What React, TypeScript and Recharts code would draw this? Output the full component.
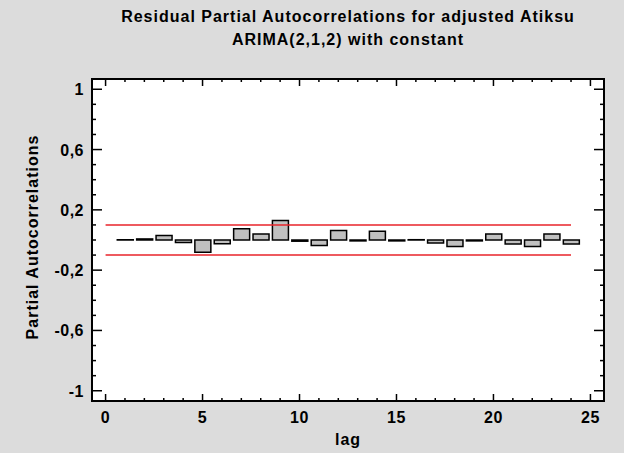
import { Bar, BarChart, XAxis, YAxis, ReferenceLine, ReferenceArea, CartesianGrid } from "recharts"

const lags = [1, 2, 3, 4, 5, 6, 7, 8, 9, 10, 11, 12, 13, 14, 15, 16, 17, 18, 19, 20, 21, 22, 23, 24]
const pacf = [
  0.002, 0.007, 0.03, -0.017, -0.081, -0.025, 0.074, 0.039, 0.129, -0.008, -0.036, 0.063,
  -0.006, 0.058, -0.006, 0.002, -0.02, -0.043, -0.006, 0.039, -0.027, -0.043, 0.039, -0.027,
]
const xTicks = [0, 1, 2, 3, 4, 5, 6, 7, 8, 9, 10, 11, 12, 13, 14, 15, 16, 17, 18, 19, 20, 21, 22, 23, 24, 25]
const xLabels = [0, 5, 10, 15, 20, 25]
const yTicks = [-1, -0.9, -0.8, -0.7, -0.6, -0.5, -0.4, -0.3, -0.2, -0.1, 0, 0.1, 0.2, 0.3, 0.4, 0.5, 0.6, 0.7, 0.8, 0.9, 1]
const yLabels = [-1, -0.6, -0.2, 0.2, 0.6, 1]
const limit = 0.1

const data = lags.map((lag, i) => ({ lag, value: pacf[i] }))

const X_DOMAIN: [number, number] = [-0.7, 25.7]
const Y_DOMAIN: [number, number] = [-1.068, 1.068]

// plot box edges (page px)
const LEFT = 92
const RIGHT = 604
const TOP = 79
const BOTTOM = 401

const font = "'Liberation Sans', Arial, sans-serif"

const near = (a: number, list: number[]) => list.some((v) => Math.abs(v - a) < 1e-6)

function XTick(props: any) {
  const { x, payload } = props
  const major = near(payload.value, xLabels)
  const len = major ? 7 : 3
  return (
    <g>
      <line x1={x} x2={x} y1={BOTTOM} y2={BOTTOM - len} stroke="#000" strokeWidth={1.5} />
      <line x1={x} x2={x} y1={TOP} y2={TOP + len} stroke="#000" strokeWidth={1.5} />
      {major && (
        <text x={x} y={423} textAnchor="middle" fontFamily={font} fontWeight="bold" fontSize={16} letterSpacing={0.5} fill="#000">
          {payload.value}
        </text>
      )}
    </g>
  )
}

function YTick(props: any) {
  const { y, payload } = props
  const major = near(payload.value, yLabels)
  const len = major ? 10 : 4
  return (
    <g>
      <line x1={LEFT} x2={LEFT + len} y1={y} y2={y} stroke="#000" strokeWidth={1.5} />
      <line x1={RIGHT} x2={RIGHT - len} y1={y} y2={y} stroke="#000" strokeWidth={1.5} />
      {major && (
        <text x={84} y={y + 6} textAnchor="end" fontFamily={font} fontWeight="bold" fontSize={16} letterSpacing={0.5} fill="#000">
          {String(payload.value).replace(".", ",")}
        </text>
      )}
    </g>
  )
}

export default function App() {
  return (
    <div style={{ position: "absolute", left: 0, top: 0, width: 624, height: 453, background: "#dcdcdc", fontFamily: font }}>
      <div
        style={{
          position: "absolute",
          left: 48,
          width: 600,
          top: 5,
          textAlign: "center",
          fontWeight: "bold",
          fontSize: 16,
          lineHeight: "23px",
          letterSpacing: 1,
          color: "#000",
        }}
      >
        Residual Partial Autocorrelations for adjusted Atiksu
        <br />
        ARIMA(2,1,2) with constant
      </div>
      <BarChart width={624} height={453} data={data} margin={{ top: TOP, right: 624 - RIGHT - 1, bottom: 453 - BOTTOM - 1, left: LEFT - 1 }}>
        <CartesianGrid horizontal={false} vertical={false} fill="#ffffff" />
        <XAxis
          dataKey="lag"
          type="number"
          domain={X_DOMAIN}
          allowDataOverflow
          ticks={xTicks}
          interval={0}
          height={1}
          axisLine={false}
          tickLine={false}
          tick={<XTick />}
        />
        <YAxis
          type="number"
          domain={Y_DOMAIN}
          allowDataOverflow
          ticks={yTicks}
          interval={0}
          width={1}
          axisLine={false}
          tickLine={false}
          tick={<YTick />}
        />
        <YAxis yAxisId="right" orientation="right" width={1} tick={false} axisLine={false} tickLine={false} />
        <ReferenceLine segment={[{ x: 0, y: limit }, { x: 24, y: limit }]} stroke="#e8232a" strokeWidth={1.5} />
        <ReferenceLine segment={[{ x: 0, y: -limit }, { x: 24, y: -limit }]} stroke="#e8232a" strokeWidth={1.5} />
        <Bar dataKey="value" fill="#c0c0c0" stroke="#000" strokeWidth={1.5} barSize={16} isAnimationActive={false} />
        <ReferenceArea x1={X_DOMAIN[0]} x2={X_DOMAIN[1]} y1={Y_DOMAIN[0]} y2={Y_DOMAIN[1]} fill="none" fillOpacity={0} stroke="#000" strokeWidth={2} />
      </BarChart>
      <div
        style={{
          position: "absolute",
          left: 248,
          width: 200,
          top: 431,
          textAlign: "center",
          fontWeight: "bold",
          fontSize: 16,
          letterSpacing: 1,
          color: "#000",
        }}
      >
        lag
      </div>
      <div
        style={{
          position: "absolute",
          left: 33,
          top: 237,
          transform: "translate(-50%, -50%) rotate(-90deg)",
          whiteSpace: "nowrap",
          fontWeight: "bold",
          fontSize: 16,
          letterSpacing: 1,
          color: "#000",
        }}
      >
        Partial Autocorrelations
      </div>
    </div>
  )
}
